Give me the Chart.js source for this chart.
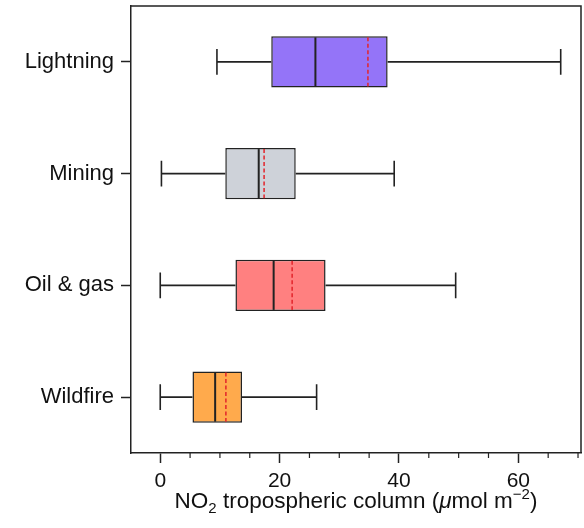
<!DOCTYPE html>
<html>
<head>
<meta charset="utf-8">
<script src="https://cdn.jsdelivr.net/npm/chart.js@4"></script>
<style>
  html, body { margin: 0; padding: 0; background: #ffffff; }
  #wrap { width: 584px; height: 528px; }
</style>
</head>
<body>
<div id="wrap"><canvas id="c" width="584" height="528"></canvas></div>
<script>
const categories = ['Lightning', 'Mining', 'Oil & gas', 'Wildfire'];
const whiskerLow = [9.5, 0.2, 0.0, 0.0];
const q1 = [18.6, 10.9, 12.6, 5.4];
const median = [26.0, 16.5, 19.0, 9.2];
const mean = [34.8, 17.4, 22.1, 11.0];
const q3 = [38.1, 22.7, 27.7, 13.7];
const whiskerHigh = [67.1, 39.2, 49.5, 26.2];
const boxColors = ['#9474f8', '#ced2d9', '#ff8080', '#ffaa4c'];
const xTicks = [0, 20, 40, 60];
const xMinorTicks = [5, 10, 15, 25, 30, 35, 45, 50, 55, 65, 70];
const xMin = -4.9, xMax = 70.5;

const INK = '#222222';
const FONT = '"Liberation Sans", Arial, Helvetica, sans-serif';

const boxPlugin = {
  id: 'boxExtras',
  beforeDatasetsDraw(chart) {
    const ctx = chart.ctx, xs = chart.scales.x, meta = chart.getDatasetMeta(0);
    ctx.save();
    ctx.strokeStyle = INK; ctx.lineWidth = 1.6; ctx.setLineDash([]);
    categories.forEach((c, i) => {
      const el = meta.data[i];
      const y = el.y, cap = el.height / 4;
      const xl = xs.getPixelForValue(whiskerLow[i]), xh = xs.getPixelForValue(whiskerHigh[i]);
      const x1 = xs.getPixelForValue(q1[i]), x3 = xs.getPixelForValue(q3[i]);
      ctx.beginPath();
      ctx.moveTo(xl, y); ctx.lineTo(x1, y);
      ctx.moveTo(x3, y); ctx.lineTo(xh, y);
      ctx.moveTo(xl, y - cap); ctx.lineTo(xl, y + cap);
      ctx.moveTo(xh, y - cap); ctx.lineTo(xh, y + cap);
      ctx.stroke();
    });
    ctx.restore();
  },
  afterDatasetsDraw(chart) {
    const ctx = chart.ctx, xs = chart.scales.x, meta = chart.getDatasetMeta(0);
    ctx.save();
    categories.forEach((c, i) => {
      const el = meta.data[i];
      const top = el.y - el.height / 2 + 1, bot = el.y + el.height / 2 - 1;
      const xm = xs.getPixelForValue(median[i]);
      ctx.strokeStyle = INK; ctx.lineWidth = 2; ctx.setLineDash([]);
      ctx.beginPath(); ctx.moveTo(xm, top); ctx.lineTo(xm, bot); ctx.stroke();
      const xa = xs.getPixelForValue(mean[i]);
      ctx.strokeStyle = '#e3242b'; ctx.lineWidth = 1.5; ctx.setLineDash([4, 2.5]);
      ctx.beginPath(); ctx.moveTo(xa, top); ctx.lineTo(xa, bot); ctx.stroke();
    });
    ctx.restore();
  },
  afterDraw(chart) {
    const ctx = chart.ctx, a = chart.chartArea, xs = chart.scales.x;
    ctx.save();
    ctx.strokeStyle = INK; ctx.lineWidth = 1.5; ctx.setLineDash([]);
    ctx.beginPath();
    ctx.moveTo(a.left, a.top); ctx.lineTo(a.right, a.top); ctx.lineTo(a.right, a.bottom);
    ctx.stroke();
    ctx.lineWidth = 1.2;
    ctx.beginPath();
    xMinorTicks.forEach(v => {
      const x = xs.getPixelForValue(v);
      ctx.moveTo(x, a.bottom); ctx.lineTo(x, a.bottom + 5);
    });
    ctx.stroke();
    const big = '22.5px ' + FONT, small = '15px ' + FONT, ital = 'italic 22.5px ' + FONT;
    const parts = [
      { t: 'NO', f: big, dy: 0 },
      { t: '2', f: small, dy: 5 },
      { t: ' tropospheric column (', f: big, dy: 0 },
      { t: 'μ', f: ital, dy: 0 },
      { t: 'mol m', f: big, dy: 0 },
      { t: '−2', f: small, dy: -9 },
      { t: ')', f: big, dy: 0 }
    ];
    let w = 0;
    parts.forEach(p => { ctx.font = p.f; p.w = ctx.measureText(p.t).width; w += p.w; });
    let x = (a.left + a.right) / 2 - w / 2;
    const base = a.bottom + 55;
    ctx.fillStyle = '#111';
    ctx.textBaseline = 'alphabetic'; ctx.textAlign = 'left';
    parts.forEach(p => { ctx.font = p.f; ctx.fillText(p.t, x, base + p.dy); x += p.w; });
    ctx.restore();
  }
};

new Chart(document.getElementById('c'), {
  type: 'bar',
  data: {
    labels: categories,
    datasets: [{
      data: categories.map((c, i) => [q1[i], q3[i]]),
      backgroundColor: boxColors,
      borderColor: INK,
      borderWidth: 1.5,
      borderSkipped: false,
      barPercentage: 0.457,
      categoryPercentage: 1.0
    }]
  },
  options: {
    indexAxis: 'y',
    responsive: false,
    devicePixelRatio: 1,
    animation: false,
    layout: { padding: { left: 0, right: 3, top: 6, bottom: 0 } },
    plugins: { legend: { display: false }, tooltip: { enabled: false }, title: { display: false } },
    scales: {
      x: {
        type: 'linear',
        min: xMin, max: xMax,
        afterBuildTicks(scale) { scale.ticks = xTicks.map(v => ({ value: v })); },
        afterFit(scale) { scale.height = 75; scale.paddingLeft = 0; scale.paddingRight = 0; },
        grid: { drawOnChartArea: false, tickLength: 10, tickWidth: 1.5, color: INK },
        border: { display: true, color: INK, width: 1.5 },
        ticks: { color: '#111', font: { family: FONT, size: 21 }, padding: 6, maxRotation: 0 }
      },
      y: {
        type: 'category',
        offset: true,
        afterFit(scale) { scale.width = 131; scale.paddingTop = 0; scale.paddingBottom = 0; },
        grid: { drawOnChartArea: false, offset: false, tickLength: 10, tickWidth: 1.5, color: INK },
        border: { display: true, color: INK, width: 1.5 },
        ticks: { color: '#111', font: { family: FONT, size: 22 }, padding: 7 }
      }
    }
  },
  plugins: [boxPlugin]
});
</script>
</body>
</html>
